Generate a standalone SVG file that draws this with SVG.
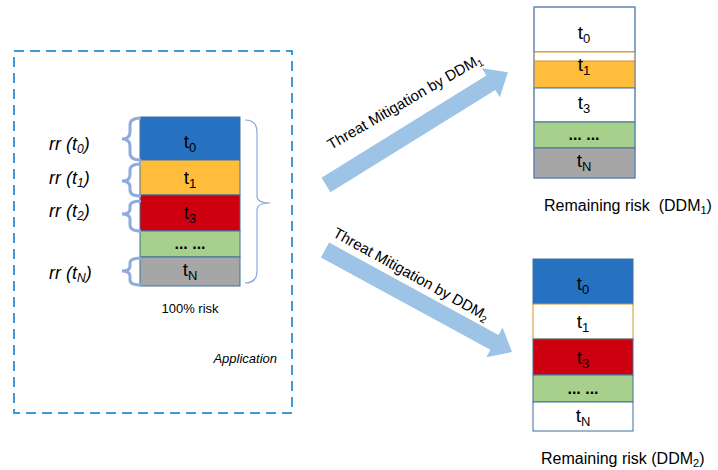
<svg xmlns="http://www.w3.org/2000/svg" width="718" height="470" viewBox="0 0 718 470">
<defs>
<style>
.txt{font-family:"Liberation Sans",Arial,sans-serif;fill:#000}
.lbl{font-size:19px;text-anchor:middle}
.rr{font-size:18px;font-style:italic}
.dots{font-size:16px;font-weight:bold;text-anchor:middle}
.cell{stroke:#41719C;stroke-width:1}
.org{stroke:#D4962A;stroke-width:1}
.brace{fill:none;stroke:#8FAADC;stroke-width:3}
.arrow{fill:#9DC3E6}
.ttl{font-size:16px}
.arr{font-size:15px}
</style>
</defs>
<rect width="718" height="470" fill="#fff"/>

<g id="application">
<rect x="14" y="51" width="278" height="362" fill="none" stroke="#3A9AD9" stroke-width="2" stroke-dasharray="10,6"/>
<text class="txt" x="277" y="363" font-size="13" font-style="italic" text-anchor="end">Application</text>
</g>

<g id="stack-full">
<rect class="cell" x="140" y="117" width="100" height="43" fill="#2672C0"/>
<rect class="cell" x="140" y="160" width="100" height="35" fill="#FFBD3B"/>
<rect class="cell" x="140" y="195" width="100" height="36" fill="#CC000F"/>
<rect class="cell" x="140" y="231" width="100" height="26" fill="#A8D08D"/>
<rect class="cell" x="140" y="257" width="100" height="29" fill="#A6A6A6"/>
<text class="txt lbl" x="190" y="148">t<tspan font-size="13" dy="4">0</tspan></text>
<text class="txt lbl" x="190" y="184">t<tspan font-size="13" dy="4">1</tspan></text>
<text class="txt lbl" x="190" y="219">t<tspan font-size="13" dy="4">3</tspan></text>
<text class="txt dots" x="190" y="249">... ...</text>
<text class="txt lbl" x="190" y="276">t<tspan font-size="13" dy="4">N</tspan></text>
<text class="txt" x="190" y="313" font-size="13" text-anchor="middle">100% risk</text>
</g>

<g id="braces">
<path class="brace" d="M141,118 Q130,118 130,125 L130,132 Q130,139 122,139 Q130,139 130,146 L130,153 Q130,160 141,160"/>
<path class="brace" d="M141,164 Q130,164 130,170 L130,175 Q130,181 122,181 Q130,181 130,187 L130,190 Q130,196 141,196"/>
<path class="brace" d="M141,201 Q130,201 130,206 L130,209 Q130,214 122,214 Q130,214 130,219 L130,225 Q130,231 141,231"/>
<path class="brace" d="M141,258 Q130,258 130,263 L130,266 Q130,271 122,271 Q130,271 130,276 L130,280 Q130,285 141,285"/>
<path fill="none" stroke="#8FAADC" stroke-width="1.2" d="M245,120 Q257,120 257,132 L257,196 Q257,203 270,203 Q257,203 257,210 L257,271 Q257,283 245,283"/>
</g>

<g id="rr-labels">
<text class="txt rr" x="49" y="150">rr (t<tspan font-size="12" dy="3">0</tspan><tspan dy="-3">)</tspan></text>
<text class="txt rr" x="49" y="184">rr (t<tspan font-size="12" dy="3">1</tspan><tspan dy="-3">)</tspan></text>
<text class="txt rr" x="49" y="217">rr (t<tspan font-size="12" dy="3">2</tspan><tspan dy="-3">)</tspan></text>
<text class="txt rr" x="49" y="279">rr (t<tspan font-size="12" dy="3">N</tspan><tspan dy="-3">)</tspan></text>
</g>

<g id="connectors">
<polygon class="arrow" transform="translate(326,185) rotate(-31.8)" points="0,-8.5 194,-8.5 194,-17 214,0 194,17 194,8.5 0,8.5"/>
<polygon class="arrow" transform="translate(325,250) rotate(28.6)" points="0,-8.5 193,-8.5 193,-17 213,0 193,17 193,8.5 0,8.5"/>
<text class="txt arr" transform="translate(331,150) rotate(-30)">Threat Mitigation by DDM<tspan font-size="10" dy="3">1</tspan></text>
<text class="txt arr" transform="translate(332,236) rotate(29)">Threat Mitigation by DDM<tspan font-size="10" dy="3">2</tspan></text>
</g>

<g id="stack-ddm1">
<rect class="cell" x="534" y="7" width="101" height="45" fill="#fff"/>
<rect class="org" x="534" y="52" width="101" height="36" fill="#fff"/>
<rect class="org" x="534" y="61" width="101" height="27" fill="#FFBD3B"/>
<rect class="cell" x="534" y="88" width="101" height="34" fill="#fff"/>
<rect class="cell" x="534" y="122" width="101" height="26" fill="#A8D08D"/>
<rect class="cell" x="534" y="148" width="101" height="30" fill="#A6A6A6"/>
<rect x="534" y="7" width="101" height="171" fill="none" stroke="#6A8FC0" stroke-width="1"/>
<text class="txt lbl" x="584" y="39">t<tspan font-size="13" dy="4">0</tspan></text>
<text class="txt lbl" x="584" y="71">t<tspan font-size="13" dy="4">1</tspan></text>
<text class="txt lbl" x="584" y="109">t<tspan font-size="13" dy="4">3</tspan></text>
<text class="txt dots" x="584" y="140">... ...</text>
<text class="txt lbl" x="584" y="167">t<tspan font-size="13" dy="4">N</tspan></text>
<text class="txt ttl" x="544" y="211">Remaining risk&#160; (DDM<tspan font-size="11" dy="3">1</tspan><tspan dy="-3">)</tspan></text>
</g>

<g id="stack-ddm2">
<rect class="cell" x="533" y="259" width="100" height="45" fill="#2672C0"/>
<rect class="org" x="533" y="304" width="100" height="35" fill="#fff"/>
<rect class="cell" x="533" y="339" width="100" height="36" fill="#CC000F"/>
<rect class="cell" x="533" y="375" width="100" height="27" fill="#A8D08D"/>
<rect class="cell" x="533" y="402" width="100" height="29" fill="#fff"/>
<text class="txt lbl" x="583" y="290">t<tspan font-size="13" dy="4">0</tspan></text>
<text class="txt lbl" x="583" y="328">t<tspan font-size="13" dy="4">1</tspan></text>
<text class="txt lbl" x="583" y="364">t<tspan font-size="13" dy="4">3</tspan></text>
<text class="txt dots" x="583" y="394">... ...</text>
<text class="txt lbl" x="583" y="422">t<tspan font-size="13" dy="4">N</tspan></text>
<text class="txt ttl" x="541" y="464">Remaining risk (DDM<tspan font-size="11" dy="3">2</tspan><tspan dy="-3">)</tspan></text>
</g>
</svg>
